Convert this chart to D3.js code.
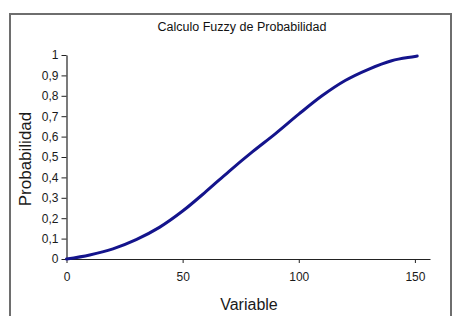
<!DOCTYPE html>
<html>
<head>
<meta charset="utf-8">
<script src="https://cdn.jsdelivr.net/npm/d3@7"></script>
<style>
  body { margin: 0; background: #fff; }
  text { font-family: Arial, "Liberation Sans", sans-serif; }
</style>
</head>
<body>
<div id="chart"></div>
<script>
// values
var xValues = [0, 10, 20, 30, 40, 50, 60, 70, 80, 90, 100, 110, 120, 130, 140, 150, 151];
var yValues = [0, 0.02, 0.05, 0.095, 0.155, 0.235, 0.33, 0.43, 0.525, 0.615, 0.71, 0.80, 0.875, 0.93, 0.972, 0.993, 0.995];
var xTicks = [0, 50, 100, 150];
var yTicks = [0, 0.1, 0.2, 0.3, 0.4, 0.5, 0.6, 0.7, 0.8, 0.9, 1];
var yTickLabels = ["0", "0,1", "0,2", "0,3", "0,4", "0,5", "0,6", "0,7", "0,8", "0,9", "1"];

var W = 453, H = 316;

var svg = d3.select("#chart")
    .append("svg")
    .attr("width", W)
    .attr("height", H);

// outer frame (runs off the right and bottom of the picture)
svg.append("rect")
    .attr("x", 10)
    .attr("y", 14)
    .attr("width", 441)
    .attr("height", 330)
    .attr("fill", "none")
    .attr("stroke", "#6e6e6e")
    .attr("stroke-width", 2)

svg.append("text")
    .text("Calculo Fuzzy de Probabilidad")
    .attr("x", 242)
    .attr("y", 31)
    .attr("text-anchor", "middle")
    .style("font-size", "12.5px")
    .style("fill", "#111")

var x = d3.scaleLinear()
    .domain([0, 156.5])
    .range([66.5, 430]);
var y = d3.scaleLinear()
    .domain([0, 1])
    .range([259, 55]);

// X axis
var gx = svg.append("g")
    .attr("transform", "translate(0," + y(0) + ")")
    .call(d3.axisBottom(x).tickValues(xTicks).tickSize(4).tickSizeOuter(0).tickPadding(9));
// Y axis
var gy = svg.append("g")
    .attr("transform", "translate(" + x(0) + ",0)")
    .call(d3.axisLeft(y).tickValues(yTicks).tickSize(5).tickSizeOuter(0).tickPadding(3)
        .tickFormat(function (d, i) { return yTickLabels[i]; }));

[gx, gy].forEach(function (g) {
    g.select(".domain").attr("stroke", "#222").attr("stroke-width", 1.2)
    g.selectAll(".tick line").attr("stroke", "#222")
    g.selectAll(".tick text")
        .style("font-family", "Arial, 'Liberation Sans', sans-serif")
        .style("font-size", "12px")
        .style("fill", "#1a1a1a")
})

// the curve
var pts = xValues.map(function (d, i) { return { x: d, y: yValues[i] }; });
svg.append("path")
    .datum(pts)
    .attr("fill", "none")
    .attr("stroke", "#14148c")
    .attr("stroke-width", 3)
    .attr("stroke-linecap", "round")
    .attr("d", d3.line()
        .curve(d3.curveMonotoneX)
        .x(function (d) { return x(d.x) })
        .y(function (d) { return y(d.y) })
    )

// axis titles
svg.append("text")
    .text("Variable")
    .attr("x", 249)
    .attr("y", 310)
    .attr("text-anchor", "middle")
    .style("font-size", "16px")
    .style("fill", "#1a1a1a")

svg.append("text")
    .text("Probabilidad")
    .attr("transform", "translate(31,159) rotate(-90)")
    .attr("text-anchor", "middle")
    .style("font-size", "17px")
    .style("fill", "#1a1a1a")
</script>
</body>
</html>
